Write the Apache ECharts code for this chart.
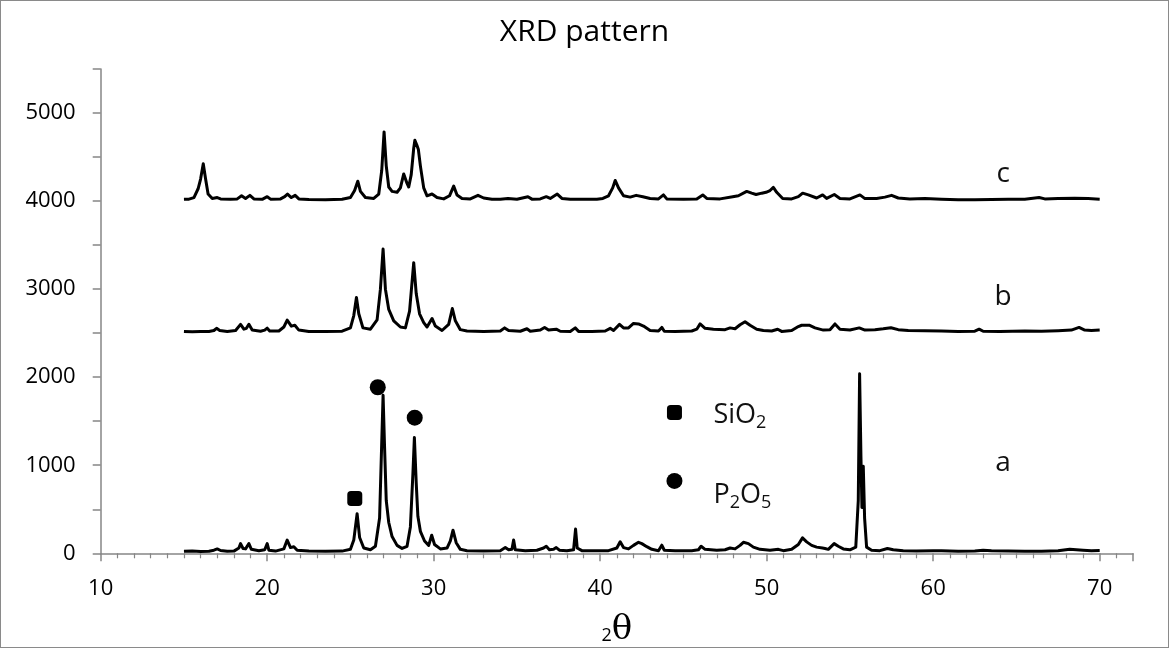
<!DOCTYPE html>
<html lang="en">
<head>
    <meta charset="UTF-8">
    <title>XRD pattern</title>
    <script src="https://cdn.jsdelivr.net/npm/echarts@6.0.0/dist/echarts.min.js"></script>
    <style>
        html, body { margin: 0; padding: 0; background: #fff; }
        #main { width: 1167px; height: 646px; border: 1px solid #8a8a8a; }
    </style>
</head>
<body>
<div id="main"></div>
<script>
    // sample a (raw powder), baseline ~0
    const seriesA = [
        [15.0,22],[15.5,25],[16.0,20],[16.5,24],[16.8,35],[17.0,50],[17.2,32],[17.6,24],[18.0,25],[18.3,60],
        [18.4,110],[18.55,55],[18.7,50],[18.9,110],[19.05,45],[19.5,28],[19.85,40],[20.0,110],[20.1,35],[20.5,25],
        [21.0,50],[21.2,150],[21.4,65],[21.6,75],[21.8,35],[22.5,25],[23.5,22],[24.5,25],[25.0,45],[25.2,150],
        [25.4,450],[25.55,180],[25.8,60],[26.2,40],[26.5,80],[26.75,400],[26.9,1400],[26.96,1795],[27.05,1200],[27.15,600],
        [27.3,350],[27.5,190],[27.8,90],[28.1,55],[28.4,80],[28.6,300],[28.75,900],[28.84,1315],[28.95,800],[29.05,420],
        [29.2,250],[29.45,140],[29.7,90],[29.88,205],[30.05,100],[30.4,50],[30.8,60],[31.0,140],[31.16,262],[31.35,120],
        [31.6,45],[32.0,30],[33.0,25],[34.0,30],[34.3,65],[34.5,40],[34.7,45],[34.8,150],[34.9,40],[35.5,30],
        [36.2,35],[36.6,60],[36.76,80],[36.95,40],[37.2,45],[37.36,65],[37.55,35],[38.0,28],[38.4,40],[38.52,275],
        [38.62,60],[38.9,30],[39.5,28],[40.5,30],[41.0,60],[41.2,131],[41.4,65],[41.7,50],[42.0,90],[42.3,125],
        [42.5,110],[42.8,75],[43.1,45],[43.5,30],[43.7,92],[43.85,35],[44.5,28],[45.5,30],[45.9,40],[46.06,80],
        [46.3,45],[47.0,35],[47.5,40],[47.8,60],[48.1,50],[48.4,90],[48.6,125],[48.9,110],[49.2,70],[49.6,45],
        [50.2,35],[50.7,45],[51.0,30],[51.5,45],[51.9,100],[52.15,175],[52.4,130],[52.7,90],[53.0,70],[53.35,60],
        [53.5,55],[53.7,45],[54.05,110],[54.3,80],[54.6,50],[55.0,40],[55.35,70],[55.5,600],[55.58,2040],[55.66,1100],
        [55.72,520],[55.8,990],[55.88,400],[56.0,70],[56.3,35],[56.8,30],[57.25,55],[57.6,40],[58.2,28],[59.0,25],
        [60.0,30],[60.5,28],[61.5,22],[62.5,25],[63.0,35],[63.5,30],[64.5,25],[65.5,22],[66.5,22],[67.5,28],
        [68.2,45],[68.6,40],[69.0,35],[69.5,30],[70.0,32]
    ];

    // sample b, offset by ~2500
    const seriesB = [
        [15.0,2520],[15.5,2515],[16.0,2520],[16.5,2518],[16.8,2530],[16.96,2555],[17.15,2530],[17.6,2520],[18.1,2530],[18.4,2600],
        [18.6,2545],[18.75,2555],[18.9,2600],[19.1,2535],[19.6,2522],[19.85,2535],[20.0,2557],[20.15,2525],[20.7,2525],[21.0,2570],
        [21.2,2648],[21.45,2580],[21.66,2590],[21.9,2535],[22.5,2520],[23.5,2518],[24.5,2522],[25.0,2560],[25.2,2700],[25.36,2905],
        [25.5,2720],[25.75,2560],[26.2,2545],[26.6,2650],[26.8,3000],[26.96,3455],[27.1,3000],[27.3,2770],[27.6,2640],[28.0,2570],
        [28.3,2560],[28.55,2750],[28.8,3300],[28.95,2950],[29.15,2720],[29.4,2620],[29.6,2570],[29.9,2667],[30.1,2580],[30.5,2530],
        [30.9,2600],[31.12,2780],[31.3,2640],[31.6,2540],[32.0,2525],[33.0,2520],[34.0,2525],[34.26,2560],[34.5,2530],[35.2,2522],
        [35.6,2550],[35.8,2522],[36.4,2535],[36.66,2565],[36.9,2535],[37.36,2545],[37.6,2522],[38.2,2520],[38.5,2560],[38.7,2520],
        [39.5,2520],[40.3,2525],[40.6,2555],[40.8,2530],[41.16,2600],[41.4,2560],[41.7,2560],[42.0,2610],[42.3,2605],[42.6,2580],
        [43.0,2530],[43.5,2525],[43.7,2565],[43.85,2522],[44.5,2520],[45.5,2525],[45.8,2545],[46.0,2605],[46.3,2555],[46.8,2545],
        [47.5,2540],[47.8,2560],[48.1,2550],[48.4,2595],[48.7,2630],[49.0,2590],[49.4,2545],[49.8,2530],[50.3,2525],[50.66,2545],
        [50.9,2520],[51.5,2530],[51.9,2575],[52.1,2590],[52.55,2590],[52.9,2560],[53.4,2535],[53.8,2540],[54.1,2605],[54.4,2545],
        [55.0,2535],[55.56,2560],[55.9,2535],[56.5,2540],[57.0,2550],[57.46,2562],[57.9,2540],[58.5,2530],[59.5,2528],[60.5,2525],
        [61.5,2520],[62.5,2522],[62.76,2545],[63.0,2522],[64.0,2520],[65.5,2525],[66.5,2522],[67.5,2528],[68.3,2535],[68.76,2565],
        [69.1,2535],[69.5,2530],[70.0,2535]
    ];

    // sample c, offset by ~4000
    const seriesC = [
        [15.0,4020],[15.3,4022],[15.6,4040],[15.85,4140],[16.0,4250],[16.16,4425],[16.3,4250],[16.45,4080],[16.7,4030],[17.0,4040],
        [17.2,4025],[17.8,4020],[18.2,4025],[18.46,4060],[18.7,4030],[18.96,4065],[19.2,4025],[19.7,4020],[20.0,4050],[20.2,4022],
        [20.8,4025],[21.05,4050],[21.22,4080],[21.45,4040],[21.68,4065],[21.9,4025],[22.5,4018],[23.5,4015],[24.5,4020],[25.0,4040],
        [25.25,4120],[25.44,4226],[25.6,4110],[25.9,4040],[26.4,4030],[26.7,4080],[26.88,4350],[27.02,4785],[27.15,4400],[27.3,4160],
        [27.5,4110],[27.8,4100],[28.0,4150],[28.2,4308],[28.4,4200],[28.5,4160],[28.65,4300],[28.8,4600],[28.87,4690],[28.98,4640],
        [29.08,4585],[29.2,4400],[29.4,4150],[29.6,4060],[29.9,4080],[30.2,4040],[30.6,4025],[30.95,4060],[31.2,4170],[31.4,4070],
        [31.7,4030],[32.2,4025],[32.66,4065],[33.0,4035],[33.5,4020],[34.0,4022],[34.46,4030],[35.0,4020],[35.66,4050],[35.9,4022],
        [36.4,4025],[36.76,4050],[37.0,4030],[37.42,4080],[37.7,4030],[38.2,4020],[38.56,4020],[39.2,4020],[39.8,4022],[40.16,4030],
        [40.5,4060],[40.75,4150],[40.9,4234],[41.1,4150],[41.4,4060],[41.8,4045],[42.16,4065],[42.56,4050],[43.0,4030],[43.5,4025],
        [43.8,4070],[44.0,4025],[45.0,4020],[45.8,4025],[46.16,4070],[46.4,4030],[47.2,4025],[47.96,4050],[48.3,4060],[48.8,4110],
        [49.1,4090],[49.36,4075],[49.7,4090],[49.96,4100],[50.2,4120],[50.4,4155],[50.6,4100],[50.96,4030],[51.5,4025],[51.9,4050],
        [52.16,4090],[52.5,4070],[53.0,4035],[53.36,4070],[53.6,4030],[54.06,4075],[54.4,4030],[55.0,4025],[55.6,4070],[55.9,4028],
        [56.6,4030],[57.1,4045],[57.5,4065],[57.9,4035],[58.6,4025],[59.5,4030],[60.5,4022],[61.5,4015],[62.5,4015],[63.5,4018],
        [64.5,4020],[65.5,4022],[66.36,4040],[66.7,4025],[67.5,4030],[68.5,4032],[69.3,4028],[70.0,4022]
    ];

    // phase markers on pattern a
    const sio2Marks = [[25.26, 622]];
    const p2o5Marks = [[26.64, 1886], [28.86, 1540]];
    // key (legend drawn inside the plot)
    const keySquare = [[44.46, 1600]];
    const keyCircle = [[44.46, 822]];
    const keyTexts = [
        { value: [46.8, 1570], label: '{n|SiO}{s|2}' },
        { value: [46.8, 660], label: '{n|P}{s|2}{n|O}{s|5}' }
    ];
    const curveLabels = [
        { value: [64.2, 4305], label: 'c' },
        { value: [64.2, 2905], label: 'b' },
        { value: [64.2, 1022], label: 'a' }
    ];

    const xTickLabels = [10, 20, 30, 40, 50, 60, 70];
    const yTickLabels = [0, 1000, 2000, 3000, 4000, 5000];

    const FONT = '"Open Sans", "Noto Sans", sans-serif';
    const axisGray = '#868686';

    function curve(name, data) {
        return {
            name: name,
            type: 'line',
            data: data,
            showSymbol: false,
            symbol: 'none',
            smooth: false,
            sampling: null,
            lineStyle: { color: '#000', width: 3, join: 'round' },
            z: 2
        };
    }

    const chart = echarts.init(document.getElementById('main'));
    chart.setOption({
        animation: false,
        backgroundColor: '#fff',
        title: {
            text: 'XRD pattern',
            left: 'center',
            top: 11,
            textStyle: { fontFamily: FONT, fontSize: 30, fontWeight: 'normal', color: '#000' }
        },
        grid: { left: 99.7, right: 35, top: 68, bottom: 93.7, containLabel: false, outerBoundsMode: 'none' },
        xAxis: {
            type: 'value',
            min: 10,
            max: 72,
            interval: 10,
            name: '{a|2}{b|θ}',
            nameLocation: 'middle',
            nameGap: 60,
            nameTextStyle: {
                rich: {
                    a: { fontFamily: FONT, fontSize: 18, color: '#000', padding: [12, 0, 0, 0] },
                    b: { fontFamily: '"DejaVu Serif", serif', fontSize: 34, color: '#000' }
                }
            },
            axisLine: { show: true, onZero: false, lineStyle: { color: axisGray, width: 1.5 } },
            axisTick: { show: true, inside: false, length: 8, lineStyle: { color: axisGray, width: 1.5 } },
            minorTick: { show: true, splitNumber: 10, length: 5, lineStyle: { color: axisGray, width: 1.2 } },
            splitLine: { show: false },
            axisLabel: {
                margin: 24,
                fontFamily: FONT,
                fontSize: 22,
                color: '#000',
                formatter: v => (xTickLabels.indexOf(v) >= 0 ? String(v) : '')
            }
        },
        yAxis: {
            type: 'value',
            min: 0,
            max: 5500,
            interval: 500,
            axisLine: { show: true, lineStyle: { color: axisGray, width: 1.5 } },
            axisTick: { show: true, inside: false, length: 8, lineStyle: { color: axisGray, width: 1.5 } },
            splitLine: { show: false },
            axisLabel: {
                margin: 25,
                fontFamily: FONT,
                fontSize: 22,
                color: '#000',
                formatter: v => (yTickLabels.indexOf(v) >= 0 ? String(v) : '')
            }
        },
        series: [
            curve('a', seriesA),
            curve('b', seriesB),
            curve('c', seriesC),
            {
                type: 'scatter',
                data: sio2Marks.concat(keySquare),
                symbol: 'roundRect',
                symbolSize: 15,
                itemStyle: { color: '#000', opacity: 1 },
                z: 3
            },
            {
                type: 'scatter',
                data: p2o5Marks.concat(keyCircle),
                symbol: 'circle',
                symbolSize: 16,
                itemStyle: { color: '#000', opacity: 1 },
                z: 3
            },
            {
                type: 'scatter',
                data: keyTexts.map(t => ({ value: t.value, label: { formatter: t.label } })),
                symbolSize: 0,
                itemStyle: { opacity: 1 },
                label: {
                    show: true,
                    position: 'right',
                    distance: 0,
                    rich: {
                        n: { fontFamily: FONT, fontSize: 27, color: '#111' },
                        s: { fontFamily: FONT, fontSize: 18, color: '#111', padding: [16, 0, 0, 0] }
                    }
                },
                z: 3
            },
            {
                type: 'scatter',
                data: curveLabels.map(t => ({ value: t.value, label: { formatter: t.label } })),
                symbolSize: 0,
                itemStyle: { opacity: 1 },
                label: {
                    show: true,
                    position: 'inside',
                    fontFamily: FONT,
                    fontSize: 28,
                    color: '#111'
                },
                z: 3
            }
        ]
    });
</script>
</body>
</html>
